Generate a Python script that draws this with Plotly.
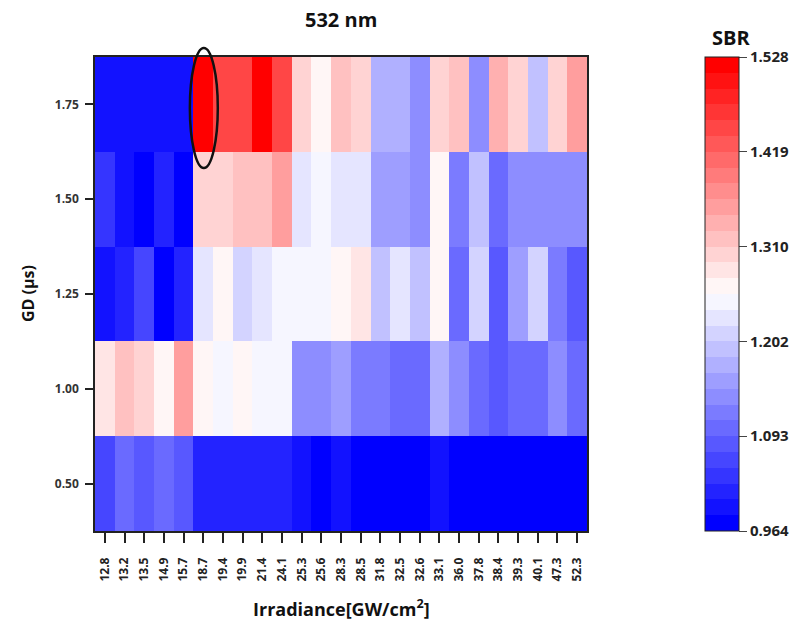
import plotly.graph_objects as go

irradiance = ["12.8", "13.2", "13.5", "14.9", "15.7", "18.7", "19.4", "19.9", "21.4", "24.1",
              "25.3", "25.6", "28.3", "28.5", "31.8", "32.5", "32.6", "33.1", "36.0", "37.8",
              "38.4", "39.3", "40.1", "47.3", "52.3"]
gd_labels = ["0.50", "1.00", "1.25", "1.50", "1.75"]

sbr_050 = [1.041, 1.080, 1.064, 1.086, 1.069, 1.003, 1.003, 1.003, 1.003, 1.003,
           0.986, 0.964, 0.992, 0.964, 0.964, 0.964, 0.964, 0.986, 0.964, 0.964,
           0.964, 0.964, 0.964, 0.964, 0.964]
sbr_100 = [1.279, 1.318, 1.301, 1.257, 1.340, 1.257, 1.235, 1.257, 1.235, 1.235,
           1.119, 1.130, 1.135, 1.097, 1.097, 1.080, 1.080, 1.152, 1.119, 1.086,
           1.064, 1.091, 1.080, 1.119, 1.080]
sbr_125 = [0.986, 1.008, 1.052, 0.964, 1.008, 1.213, 1.257, 1.196, 1.213, 1.235,
           1.235, 1.235, 1.257, 1.279, 1.174, 1.213, 1.174, 1.257, 1.080, 1.196,
           1.058, 1.135, 1.196, 1.113, 1.058]
sbr_150 = [1.030, 0.986, 0.964, 1.019, 0.964, 1.296, 1.296, 1.318, 1.318, 1.340,
           1.213, 1.235, 1.213, 1.213, 1.146, 1.146, 1.119, 1.254, 1.102, 1.174,
           1.091, 1.119, 1.119, 1.119, 1.119]
sbr_175 = [0.986, 0.986, 0.986, 0.986, 0.986, 1.528, 1.445, 1.445, 1.528, 1.445,
           1.285, 1.257, 1.307, 1.285, 1.152, 1.152, 1.130, 1.285, 1.318, 1.130,
           1.329, 1.301, 1.180, 1.301, 1.340]

cbar_ticktext = ["0.964", "1.093", "1.202", "1.310", "1.419", "1.528"]
zmin, zmax = 0.964, 1.528

# stepped blue-white-red colorscale
n = 30
scale = []
for k in range(n):
    t = k / (n - 1)
    if t < 0.5:
        v = round(255 * t / 0.5)
        col = f"rgb({v},{v},255)"
    else:
        v = round(255 * (1 - t) / 0.5)
        col = f"rgb(255,{v},{v})"
    scale.append([k / n, col])
    scale.append([(k + 1) / n, col])

z = [sbr_050, sbr_100, sbr_125, sbr_150, sbr_175]
xs = list(range(len(irradiance)))
ys = list(range(len(gd_labels)))

cb_tickvals = [zmin + i * (zmax - zmin) / 5 for i in range(6)]

font = "Open Sans, Noto Sans, sans-serif"

fig = go.Figure(go.Heatmap(
    z=z, x=xs, y=ys, zmin=zmin, zmax=zmax, colorscale=scale,
    colorbar=dict(
        thickness=34, thicknessmode="pixels", len=474, lenmode="pixels",
        x=(705 - 95) / 492, xanchor="left", xref="paper",
        y=1, yanchor="top", yref="paper", xpad=0, ypad=0,
        outlinecolor="#222", outlinewidth=1,
        ticks="outside", ticklen=8, tickcolor="#444", tickwidth=1,
        tickvals=cb_tickvals, ticktext=cbar_ticktext,
        tickfont=dict(family=font, size=15, color="#222", weight="bold"),
    ),
))

fig.update_layout(
    width=811, height=631,
    margin=dict(l=95, r=224, t=57, b=100),
    paper_bgcolor="white", plot_bgcolor="white",
    font=dict(family=font, color="#222"),
    xaxis=dict(
        tickmode="array", tickvals=xs, ticktext=irradiance, tickangle=-90,
        range=[-0.5, len(irradiance) - 0.5], ticks="outside", ticklen=10,
        tickcolor="#222", tickwidth=1.5, showgrid=False, zeroline=False,
        showline=True, linecolor="#222", linewidth=1.5, mirror=True,
        tickfont=dict(family=font, size=12, color="#222", weight="bold"),
        ticklabelstandoff=10,
    ),
    yaxis=dict(
        tickmode="array", tickvals=ys, ticktext=gd_labels,
        range=[-0.5, len(gd_labels) - 0.5], ticks="outside", ticklen=8,
        tickcolor="#222", tickwidth=1.5, showgrid=False, zeroline=False,
        showline=True, linecolor="#222", linewidth=1.5, mirror=True,
        tickfont=dict(family=font, size=12, color="#333", weight="bold"),
        ticklabelstandoff=4,
    ),
    annotations=[
        dict(text="<b>532 nm</b>", x=0.5, y=(531 - 20) / 474, xref="paper", yref="paper",
             xanchor="center", yanchor="middle",
             showarrow=False, font=dict(family=font, size=20, color="#111")),
        dict(text="<b>SBR</b>", x=(731 - 95) / 492, y=(531 - 37) / 474, xref="paper", yref="paper",
             xanchor="center", yanchor="middle",
             showarrow=False, font=dict(family=font, size=20, color="#111")),
        dict(text="<b>GD (µs)</b>", x=(28 - 95) / 492, y=0.5, xref="paper", yref="paper",
             xanchor="center", yanchor="middle",
             showarrow=False, textangle=-90, font=dict(family=font, size=16, color="#111")),
        dict(text="<b>Irradiance[GW/cm<sup>2</sup>]</b>", x=0.5, y=(531 - 608) / 474,
             xref="paper", yref="paper", showarrow=False,
             xanchor="center", yanchor="middle",
             font=dict(family=font, size=18, color="#111")),
    ],
    shapes=[
        dict(type="circle", xref="x", yref="paper", x0=4.32, x1=5.74,
             y0=(531 - 168) / 474, y1=(531 - 48) / 474,
             line=dict(color="#111", width=2.5), fillcolor="rgba(0,0,0,0)", layer="above"),
    ],
)

fig.write_html("out.html")
